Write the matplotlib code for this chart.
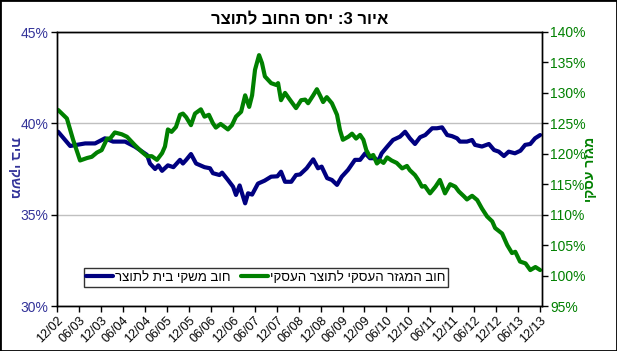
import matplotlib
matplotlib.use('Agg')
import matplotlib.pyplot as plt
from matplotlib.patches import Rectangle

plt.rcParams['font.family'] = ['Liberation Sans', 'DejaVu Sans']

# x values: months since 12/2002
hh_months = [0.3, 3.6, 7.7, 10.4, 13.1, 15.3, 18.6, 21.3, 24.6, 25.4, 26.8, 27.7, 28.7,
             30.3, 31.8, 33.6, 34.4, 35.3, 36.6, 38.0, 40.3, 41.8, 42.6, 44.4, 45.1,
             46.7, 48.1, 48.9, 49.9, 50.5, 51.4, 52.2, 53.3, 54.9, 56.7, 58.5, 60.2,
             61.2, 62.3, 64.0, 65.3, 66.4, 68.2, 70.0, 71.3, 72.3, 73.8, 75.1, 76.5,
             77.8, 79.5, 81.4, 82.8, 84.2, 85.5, 86.9, 87.7, 88.7, 90.2, 91.8, 93.7,
             95.1, 96.4, 97.8, 99.2, 100.6, 102.5, 103.8, 105.2, 106.6, 107.9, 109.3,
             110.1, 112.0, 113.4, 114.2, 116.1, 118.0, 119.4, 120.7, 122.1, 123.4,
             125.1, 126.6, 127.9, 129.3, 130.6, 132.0]
hh_debt = [39.54, 38.76, 38.9, 38.9, 39.18, 39.0, 39.0, 38.72, 38.27, 37.8, 37.5, 37.7, 37.4,
           37.7, 37.6, 38.0, 37.8, 38.0, 38.32, 37.8, 37.6, 37.54, 37.27, 37.17, 37.3,
           36.9, 36.53, 36.08, 36.6, 36.2, 35.62, 36.17, 36.1, 36.7, 36.86, 37.08, 37.1,
           37.35, 36.8, 36.8, 37.17, 37.2, 37.54, 38.03, 37.54, 37.63, 37.0, 36.9, 36.63,
           37.08, 37.45, 38.0, 38.0, 38.36, 38.09, 38.09, 37.9, 38.36, 38.72, 39.09, 39.27,
           39.54, 39.18, 38.87, 39.24, 39.36, 39.73, 39.73, 39.78, 39.36, 39.3, 39.18,
           39.0, 39.0, 39.09, 38.82, 38.73, 38.87, 38.54, 38.45, 38.21, 38.45,
           38.36, 38.5, 38.82, 38.87, 39.18, 39.36]

biz_months = [0.3, 2.7, 4.4, 6.3, 8.2, 9.5, 10.9, 12.2, 13.7, 14.5, 15.8, 17.7, 19.1,
              21.3, 23.2, 24.6, 25.9, 27.3, 28.7, 29.5, 30.3, 31.3, 32.5, 33.6, 34.4,
              35.3, 36.6, 37.7, 39.3, 40.3, 41.5, 42.6, 43.4, 44.7, 46.7, 47.8, 48.9,
              50.3, 51.4, 52.5, 53.3, 54.1, 55.2, 56.0, 56.8, 58.5, 59.9, 60.4, 61.2,
              62.3, 63.6, 65.3, 66.7, 67.8, 68.6, 70.0, 71.0, 72.0, 72.7, 73.7, 75.1,
              76.5, 77.3, 78.1, 79.6, 80.6, 81.7, 82.8, 83.7, 84.5, 85.5, 86.4, 87.4,
              88.3, 89.2, 90.2, 91.4, 92.8, 94.3, 95.6, 96.4, 97.8, 98.7, 99.7, 100.5,
              101.9, 103.4, 104.6, 106.0, 107.4, 108.8, 109.8, 111.2, 112.0, 113.4,
              114.8, 116.1, 117.5, 118.9, 119.7, 121.6, 123.0, 124.3, 125.2, 126.5,
              128.0, 129.3, 130.7, 132.0]
biz_debt = [127.2, 125.8, 122.3, 118.9, 119.3, 119.5, 120.2, 120.6, 122.5, 122.5, 123.5, 123.2, 122.8,
            121.4, 120.3, 119.6, 119.6, 119.0, 120.1, 121.2, 124.0, 123.6, 124.4, 126.4, 126.6,
            126.0, 124.7, 126.6, 127.3, 126.1, 126.4, 125.0, 124.3, 124.9, 124.0, 124.7, 126.1,
            126.9, 129.6, 127.7, 129.6, 133.8, 136.2, 134.9, 132.7, 131.6, 131.3, 131.6, 128.8,
            130.0, 128.9, 127.5, 128.8, 128.9, 128.3, 129.6, 130.6, 129.4, 128.5, 129.3, 128.3,
            126.4, 123.9, 122.3, 122.8, 123.3, 122.5, 123.1, 122.3, 120.6, 119.5, 119.8, 118.4,
            118.9, 118.5, 119.4, 118.9, 118.5, 117.6, 118.0, 117.3, 116.5, 115.7, 114.6, 114.7,
            113.5, 114.6, 115.7, 113.5, 115.0, 114.6, 113.8, 113.0, 112.5, 113.1,
            112.4, 111.0, 109.7, 108.9, 107.8, 106.9, 105.0, 103.7, 103.9, 102.3,
            102.0, 100.9, 101.4, 100.9]

tick_labels = ['12/02', '06/03', '12/03', '06/04', '12/04', '06/05', '12/05', '06/06',
               '12/06', '06/07', '12/07', '06/08', '12/08', '06/09', '12/09', '06/10',
               '12/10', '06/11', '12/11', '06/12', '12/12', '06/13', '12/13']
left_ticks = [30, 35, 40, 45]
right_ticks = [95, 100, 105, 110, 115, 120, 125, 130, 135, 140]

title = 'איור 3: יחס החוב לתוצר'
hh_label = 'חוב משקי בית לתוצר'
biz_label = 'חוב המגזר העסקי לתוצר העסקי'
left_ylabel = 'משקי בית'
right_ylabel = 'מגזר עסקי'


def vis(s):
    # matplotlib has no bidi support, so put the Hebrew in visual order
    return s[::-1]


blue = '#000080'
green = '#008000'
left_col = '#333399'
narrow = ['Liberation Sans Narrow', 'Liberation Sans', 'DejaVu Sans']

fig = plt.figure(figsize=(6.17, 3.51), dpi=100)
ax = fig.add_axes([57 / 617, 45 / 351, 485 / 617, 274 / 351])
ax2 = ax.twinx()

for v in left_ticks:
    ax.axhline(v, color='#c0c0c0', lw=1, zorder=0)

ax.plot(hh_months, hh_debt, color=blue, lw=3.0, solid_capstyle='round', label=vis(hh_label))
ax2.plot(biz_months, biz_debt, color=green, lw=3.0, solid_capstyle='round', label=vis(biz_label))

ax.set_xlim(0, 132.5)
ax.set_ylim(30, 45)
ax2.set_ylim(95, 140)

ax.set_xticks(range(0, 133, 6))
ax.set_xticklabels(tick_labels, rotation=45, ha='right', rotation_mode='anchor',
                   fontsize=9, family=narrow)
ax.set_yticks(left_ticks)
ax.set_yticklabels([f'{v}%' for v in left_ticks], fontsize=10, family=narrow)
ax2.set_yticks(right_ticks)
ax2.set_yticklabels([f'{v}%' for v in right_ticks], fontsize=10, family=narrow)

for a in (ax, ax2):
    a.tick_params(direction='out', length=4, width=1, colors='black', pad=2)
    for s in a.spines.values():
        s.set_linewidth(1)
        s.set_color('black')
for t in ax.get_yticklabels():
    t.set_color(left_col)
for t in ax2.get_yticklabels():
    t.set_color(green)

fig.text(15 / 617, 1 - 168 / 351, vis(left_ylabel), rotation=270, color=left_col,
         fontsize=10, fontweight='bold', ha='center', va='center')
fig.text(590 / 617, 1 - 169 / 351, vis(right_ylabel), rotation=90, color=green,
         fontsize=10, fontweight='bold', ha='center', va='center')

fig.text(300 / 617, 1 - 20 / 351, vis(title), fontsize=12, fontweight='bold',
         ha='center', va='center')

h1, l1 = ax.get_legend_handles_labels()
h2, l2 = ax2.get_legend_handles_labels()
leg = fig.legend(h1 + h2, l1 + l2, ncol=2, loc='center', bbox_to_anchor=(266 / 617, 1 - 277.5 / 351),
                 fontsize=9.5, frameon=True, fancybox=False, edgecolor='black',
                 handlelength=2.0, handletextpad=0.2, columnspacing=0.8,
                 borderpad=0.2, borderaxespad=0)
leg.get_frame().set_linewidth(1)

fig.patches.append(Rectangle((0, 0), 1, 1, transform=fig.transFigure, fill=False,
                             edgecolor='black', lw=2))

fig.savefig('out.png', dpi=100)
